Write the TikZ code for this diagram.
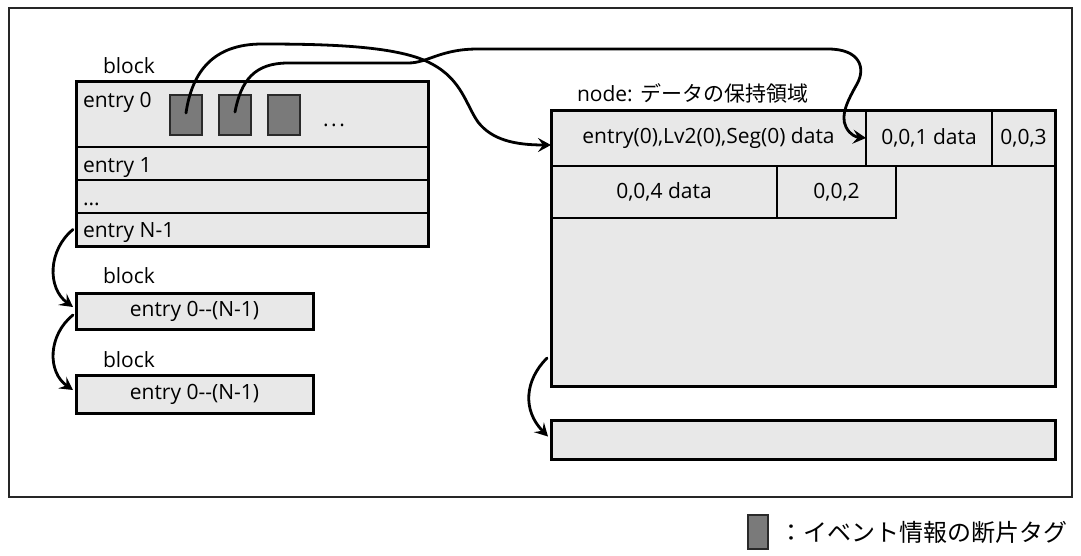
\documentclass[tikz,border=0pt]{standalone}
\usepackage{fontspec}
\setmainfont{Open Sans}
\newfontfamily\jp{Noto Sans CJK JP}
\usetikzlibrary{arrows.meta,calc}

\definecolor{boxfill}{HTML}{E8E8E8}
\definecolor{tagfill}{HTML}{7A7A7A}
\definecolor{tagline}{HTML}{2A2A2A}

\begin{document}
\begin{tikzpicture}[x=1pt,y=-1pt,
  font=\fontsize{21}{24}\selectfont,
  cell/.style={draw=black, line width=1.6pt, fill=boxfill, rectangle, inner sep=0pt, outer sep=0pt},
  outline/.style={draw=black, line width=3pt, rectangle, inner sep=0pt, outer sep=0pt},
  tag/.style={draw=tagline, line width=1.8pt, fill=tagfill, rectangle, inner sep=0pt, outer sep=0pt},
  link/.style={line width=2.8pt, line cap=round, -{Stealth[length=13pt,width=14pt,inset=5pt]}},
  txt/.style={inner sep=0pt, outer sep=0pt},
]
\useasboundingbox (0,0) rectangle (1081,555);

% surrounding panel
\node[draw=black!85, line width=2pt, rectangle, inner sep=0pt,
      minimum width=1063pt, minimum height=489pt] (panel) at (540.5,252.5) {};

% ---- first block with its entries
\node[txt, anchor=base west] (blkhead) at (103,73) {block};
\node[cell, minimum width=352pt, minimum height=66pt] (r0) at (252,114) {};
\node[cell, minimum width=352pt, minimum height=33pt] (r1) at (252,163.5) {};
\node[cell, minimum width=352pt, minimum height=33pt] (r2) at (252,196.5) {};
\node[cell, minimum width=352pt, minimum height=33pt] (r3) at (252,229.5) {};
\node[outline, minimum width=352pt, minimum height=165pt] (blk1) at (252,163.5) {};
\node[txt, anchor=base west] (e0) at (83,107) {entry 0};
\node[txt, anchor=base west] (e1) at (83,172) {entry 1};
\node[txt, anchor=base west] (e2) at (83,205) {...};
\node[txt, anchor=base west] (e3) at (83,237) {entry N-1};

% fragment tags inside entry 0
\node[tag, minimum width=32pt, minimum height=40pt] (tag1) at (186,115) {};
\node[tag, minimum width=32pt, minimum height=40pt] (tag2) at (235,115) {};
\node[tag, minimum width=32pt, minimum height=40pt] (tag3) at (284,115) {};
\node[txt, anchor=base] (tagmore) at (334,126) {.\kern2.5pt.\kern2.5pt.};

% ---- following blocks
\node[txt, anchor=base west] (blk2head) at (103,283) {block};
\node[cell, line width=3pt, minimum width=237pt, minimum height=36pt] (blk2) at (194.5,311) {entry 0-\kern0pt-(N-1)};
\node[txt, anchor=base west] (blk3head) at (103,367) {block};
\node[cell, line width=3pt, minimum width=237pt, minimum height=38pt] (blk3) at (194.5,394) {entry 0-\kern0pt-(N-1)};

% ---- node storage area
\node[txt, anchor=base west] (storehead) at (577,101) {node: {\jp\fontsize{21}{24}\selectfont データの保持領域}};
\node[cell, minimum width=504pt, minimum height=276pt] (store) at (803,248) {};
\node[cell, minimum width=315pt, minimum height=56pt] (c1) at (708.5,138) {entry(0),Lv2(0),Seg(0) data};
\node[cell, minimum width=126pt, minimum height=56pt] (c2) at (929,138) {0,0,1 data};
\node[cell, minimum width=63pt, minimum height=56pt] (c3) at (1023.5,138) {0,0,3};
\node[cell, minimum width=226pt, minimum height=52pt] (d1) at (664,192) {0,0,4 data};
\node[cell, minimum width=119pt, minimum height=52pt] (d2) at (836.5,192) {0,0,2};
\node[outline, minimum width=504pt, minimum height=276pt] (storeframe) at (803,248) {};
\node[cell, line width=3pt, minimum width=504pt, minimum height=39pt] (next) at (803,439.5) {};

% ---- connectors
\draw[link] ([yshift=2pt]tag1.center)
  .. controls (192,72) and (213,44) .. (262,44)
  .. controls (330,44) and (400,46) .. (432,64)
  .. controls (462,80) and (466,105) .. (478,122)
  .. controls (492,140) and (515,145) .. ([yshift=-7pt]c1.west);
\draw[link] ([yshift=3pt]tag2.center)
  .. controls (241,80) and (255,63) .. (288,63) -- (408,63)
  .. controls (428,63) and (440,49) .. (478,49) -- (828,49)
  .. controls (860,49) and (866,68) .. (857,84)
  .. controls (848,100) and (840,115) .. (846,127)
  .. controls (850,135) and (856,137) .. (c1.east);
\draw[link] ([xshift=-3pt]r3.west)
  .. controls (48,250) and (47,288) .. ([xshift=-3pt,yshift=4pt]blk2.west);
\draw[link] ([xshift=-3pt,yshift=-4pt]blk2.west)
  .. controls (48,335) and (47,372) .. ([xshift=-3pt,yshift=4pt]blk3.west);
\draw[link] ([xshift=-4pt,yshift=28pt]store.south west)
  .. controls (525,380) and (522,410) .. ([xshift=-3pt,yshift=3pt]next.west);

% ---- legend
\node[tag, minimum width=20pt, minimum height=34pt] (legtag) at (758,532) {};
\node[txt, anchor=base west] (legtext) at (779,541) {\jp\fontsize{24}{27}\selectfont ：イベント情報の断片タグ};
\end{tikzpicture}
\end{document}
